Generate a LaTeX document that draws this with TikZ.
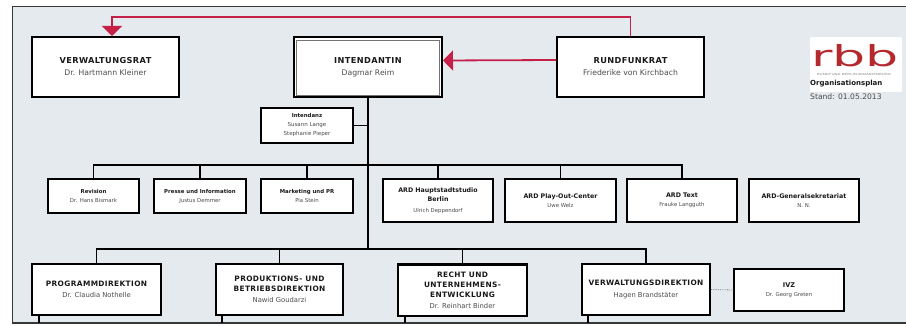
\documentclass[tikz,border=0pt]{standalone}
\usepackage{fontspec}
\setmainfont{DejaVu Sans}
\newfontfamily\hfont{DejaVu Sans}[LetterSpace=5.0]
\usetikzlibrary{arrows.meta}
\definecolor{panel}{RGB}{229,234,239}
\definecolor{rbbred}{RGB}{196,32,72}
\definecolor{logored}{RGB}{180,40,46}
\definecolor{namegray}{RGB}{75,75,75}
\definecolor{titleblack}{RGB}{25,25,25}
\definecolor{frame}{RGB}{55,55,55}
\newcommand\nm[3]{{\normalfont\color{namegray}\fontsize{#1}{#2}\selectfont #3}}
\begin{document}
\begin{tikzpicture}[x=1pt,y=-1pt,
  box/.style={draw=black, fill=white, inner sep=0pt, align=center, text=titleblack},
  topbox/.style={box, line width=2pt, minimum width=147pt, minimum height=60pt,
    font=\hfont\bfseries\fontsize{8.2}{12}\selectfont},
  staffbox/.style={box, line width=1.1pt, minimum width=92pt, minimum height=34pt,
    font=\bfseries\fontsize{5.4}{9}\selectfont},
  ardbox/.style={box, line width=1.1pt, minimum width=110pt, minimum height=43pt,
    font=\bfseries\fontsize{6.3}{9.5}\selectfont},
  dirbox/.style={box, line width=2pt, minimum width=128pt, minimum height=51pt,
    font=\hfont\bfseries\fontsize{7.4}{10}\selectfont},
  conn/.style={draw=black, line width=1.3pt},
  redarrow/.style={draw=rbbred, line width=1.8pt, -{Triangle[width=20pt,length=10pt]}}
]
\useasboundingbox (0,0) rectangle (906,326);
\fill[white] (0,0) rectangle (906,326);
\fill[panel] (12.5,6.5) rectangle (906,323);
\draw[frame, line width=1.5pt] (906,6.5) -- (12.5,6.5) -- (12.5,323) -- (906,323);

% top boxes
\node[topbox] (vr) at (105.5,67) {VERWALTUNGSRAT\\\nm{7.7}{12}{Dr. Hartmann Kleiner}};
\node[topbox, minimum width=148pt] (int) at (368,67.5) {INTENDANTIN\\\nm{7.7}{12}{Dagmar Reim}};
\draw[black!55, line width=0.8pt] ([shift={(3.5pt,-3.5pt)}]int.north west) rectangle ([shift={(-3.5pt,3.5pt)}]int.south east);
\node[topbox] (rf) at (630.5,67) {RUNDFUNKRAT\\\nm{7.7}{12}{Friederike von Kirchbach}};

% red arrows
\coordinate (rt) at (112,17);
\draw[redarrow] (rf.north) |- (rt) -- (rt |- vr.north);
\draw[redarrow] ([yshift=7pt]rf.west) -- ([yshift=7pt]int.east);

% logo
\fill[white] (810,37) rectangle (902,92);
\node[text=logored, font=\fontsize{29}{29}\selectfont, xscale=1.8, anchor=base, inner sep=0] (logo) at (855,66.5) {rbb};
\node[text=black!45, font=\fontsize{2.8}{3}\selectfont, xscale=1.5, inner sep=0] (tag) at (854,74.5) {RUNDFUNK BERLIN-BRANDENBURG};
\node[anchor=west, inner sep=0, font=\bfseries\fontsize{7}{8}\selectfont, text=titleblack] (org) at (810,84) {Organisationsplan};
\node[anchor=west, inner sep=0, font=\fontsize{7.6}{8}\selectfont, text=namegray] (stand) at (810,97) {Stand: 01.05.2013};

% Intendanz
\node[staffbox, minimum height=35pt] (intz) at (307,125.5) {Intendanz\\\nm{5.5}{9.5}{Susann Lange}\\\nm{5.5}{9.5}{Stephanie Pieper}};

% staff row
\node[staffbox, minimum width=91pt] (rev) at (93.5,196) {Revision\\\nm{5.4}{9}{Dr. Hans Bismark}};
\node[staffbox] (pres) at (200,196) {Presse und Information\\\nm{5.4}{9}{Justus Demmer}};
\node[staffbox] (mark) at (307,196) {Marketing und PR\\\nm{5.4}{9}{Pia Stein}};
\node[ardbox] (ardh) at (438,200.5) {ARD Hauptstadtstudio\\Berlin\\[1pt]\nm{5.4}{9.5}{Ulrich Deppendorf}};
\node[ardbox, minimum width=111pt] (ardp) at (560.5,200.5) {ARD Play-Out-Center\\\nm{5.4}{9.5}{Uwe Welz}};
\node[ardbox] (ardt) at (682,200.5) {ARD Text\\\nm{5.4}{9.5}{Frauke Langguth}};
\node[ardbox] (ardg) at (804,200.5) {ARD-Generalsekretariat\\\nm{5.4}{9.5}{N. N.}};

% directorates
\node[dirbox, minimum width=129pt] (prog) at (96.5,289.5) {PROGRAMMDIREKTION\\[1.5pt]\nm{6.8}{10}{Dr. Claudia Nothelle}};
\node[dirbox, minimum width=127pt] (prod) at (279.5,289.5) {PRODUKTIONS- UND\\BETRIEBSDIREKTION\\[1pt]\nm{6.8}{10}{Nawid Goudarzi}};
\node[dirbox, minimum width=129pt] (recht) at (462.5,290) {RECHT UND\\UNTERNEHMENS-\\ENTWICKLUNG\\[1pt]\nm{6.8}{10}{Dr. Reinhart Binder}};
\node[dirbox] (vd) at (646,289.5) {VERWALTUNGSDIREKTION\\[1.5pt]\nm{6.8}{10}{Hagen Brandstäter}};
\node[staffbox, minimum width=110pt, minimum height=42pt, font=\bfseries\fontsize{6.5}{9}\selectfont] (ivz) at (789,290) {IVZ\\\nm{5.4}{9}{Dr. Georg Greten}};

% connectors
\coordinate (sbus) at (368,165);
\coordinate (dbus) at (368,249);
\draw[conn, line width=1.6pt] (int.south) -- (dbus);
\draw[conn] (intz.east) -- (intz.east -| int.south);
\draw[conn] (rev.north) |- (sbus) -| (ardt.north);
\foreach \n in {pres,mark,ardh,ardp} \draw[conn] (\n.north) -- (\n.north |- sbus);
\draw[conn] (prog.north) |- (dbus) -| (vd.north);
\foreach \n in {prod,recht} \draw[conn] (\n.north) -- (\n.north |- dbus);
\draw[black!50, densely dotted, line width=0.8pt] (vd.east) -- (ivz.west);

% stubs to lower level
\coordinate (s1) at (39,323);
\coordinate (s2) at (222,323);
\coordinate (s3) at (405,323);
\coordinate (s4) at (588,323);
\draw[conn] (prog.south -| s1) -- (s1);
\draw[conn] (prod.south -| s2) -- (s2);
\draw[conn] (recht.south -| s3) -- (s3);
\draw[conn] (vd.south -| s4) -- (s4);
\end{tikzpicture}
\end{document}
